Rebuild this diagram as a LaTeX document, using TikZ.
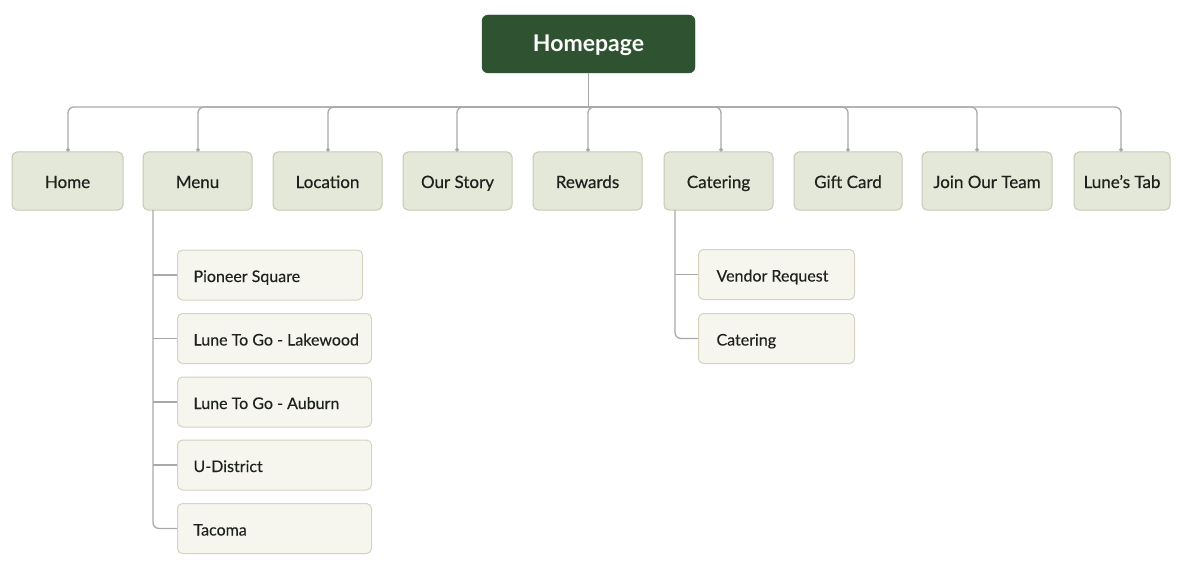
\documentclass[tikz,border=0pt]{standalone}
\usepackage{fontspec}
\setmainfont{Lato}
\newfontfamily\latomed[FakeBold=0.5]{Lato}
\newfontfamily\latosub[FakeBold=0.25]{Lato}
\usetikzlibrary{arrows.meta}
\newcommand\subtxt[1]{\mbox{\spaceskip=0pt \xspaceskip=0pt #1}}
\definecolor{topgreen}{HTML}{2F5230}
\definecolor{lvlfill}{HTML}{E4E8D9}
\definecolor{lvldraw}{HTML}{C6CAB2}
\definecolor{subfill}{HTML}{F6F6EF}
\definecolor{subdraw}{HTML}{D4D4C0}
\definecolor{linegray}{HTML}{A9A9A9}
\definecolor{txt}{HTML}{1E221C}
\tikzset{
  topbox/.style={draw=topgreen, fill=topgreen, rounded corners=6pt, minimum width=213pt, minimum height=58pt, text=white, font=\bfseries\fontsize{23}{27}\selectfont, inner sep=0pt, text height=16pt, text depth=0pt},
  lvlbox/.style={draw=lvldraw, line width=1pt, fill=lvlfill, rounded corners=5pt, minimum height=58pt, text=txt, font=\latomed\fontsize{17}{20}\selectfont, inner sep=0pt, text height=14pt, text depth=0pt},
  subbox/.style={draw=subdraw, line width=1pt, fill=subfill, rounded corners=5pt, minimum height=50pt, text=txt, font=\latosub\fontsize{16}{19}\selectfont, inner ysep=0pt, inner xsep=16pt, anchor=west, text width=#1, align=left, text height=14pt, text depth=0pt},
  conn/.style={draw=linegray, line width=1.3pt, rounded corners=6pt},
  dotend/.style={conn, -{Circle[length=3.5pt]}},
}
\begin{document}
\begin{tikzpicture}[x=1pt,y=-1pt]
\useasboundingbox (0,0) rectangle (1198,580);
\fill[white] (0,0) rectangle (1198,580);
\node[topbox] (home0) at (588.5,44) {Homepage};
% level 1
\node[lvlbox, minimum width=111pt] (home) at (67.5,181) {Home};
\node[lvlbox, minimum width=109pt] (menu) at (197.5,181) {Menu};
\node[lvlbox, minimum width=109pt] (loc) at (327.5,181) {Location};
\node[lvlbox, minimum width=109pt] (story) at (457.5,181) {Our Story};
\node[lvlbox, minimum width=109pt] (rew) at (587.5,181) {Rewards};
\node[lvlbox, minimum width=109pt] (cat) at (718.5,181) {Catering};
\node[lvlbox, minimum width=108pt] (gift) at (848,181) {Gift Card};
\node[lvlbox, minimum width=130pt] (join) at (987,181) {Join Our Team};
\node[lvlbox, minimum width=96pt] (tab) at (1122,181) {Lune’s Tab};
% bus
\coordinate (bus) at (588.5,107);
\draw[conn] (home0.south) -- (bus);
\draw[dotend] (bus) -| ([xshift=0.5pt]home.north);
\draw[dotend] (bus) -| ([xshift=0.5pt]menu.north);
\draw[dotend] (bus) -| ([xshift=0.5pt]loc.north);
\draw[dotend] (bus) -| ([xshift=-0.5pt]story.north);
\draw[dotend] (bus) -| ([xshift=0.5pt]rew.north);
\draw[dotend] (bus) -| ([xshift=2.5pt]cat.north);
\draw[dotend] (bus) -| (gift.north);
\draw[dotend] (bus) -| ([xshift=-10pt]join.north);
\draw[dotend] (bus) -| ([xshift=-1pt]tab.north);
% menu children
\node[subbox=153pt] (pio) at (177,275) {\subtxt{Pioneer Square}};
\node[subbox=162pt] (lake) at (177,338.5) {\subtxt{Lune To Go - Lakewood}};
\node[subbox=162pt] (aub) at (177,402) {\subtxt{Lune To Go - Auburn}};
\node[subbox=162pt] (udis) at (177,465) {\subtxt{U-District}};
\node[subbox=162pt] (tac) at (177,528.5) {\subtxt{Tacoma}};
\coordinate (mt) at (153,210);
\draw[conn] (mt) |- (tac.west);
\foreach \n in {pio,lake,aub,udis} \draw[conn] (\n.west -| mt) -- (\n.west);
% catering children
\node[subbox=124pt] (vend) at (698,274.5) {\subtxt{\hspace*{2pt}Vendor Request}};
\node[subbox=124pt] (cat2) at (698,338.5) {\subtxt{\hspace*{2pt}Catering}};
\coordinate (ct) at (675,210);
\draw[conn] (ct) |- (cat2.west);
\draw[conn] (vend.west -| ct) -- (vend.west);
\end{tikzpicture}
\end{document}
